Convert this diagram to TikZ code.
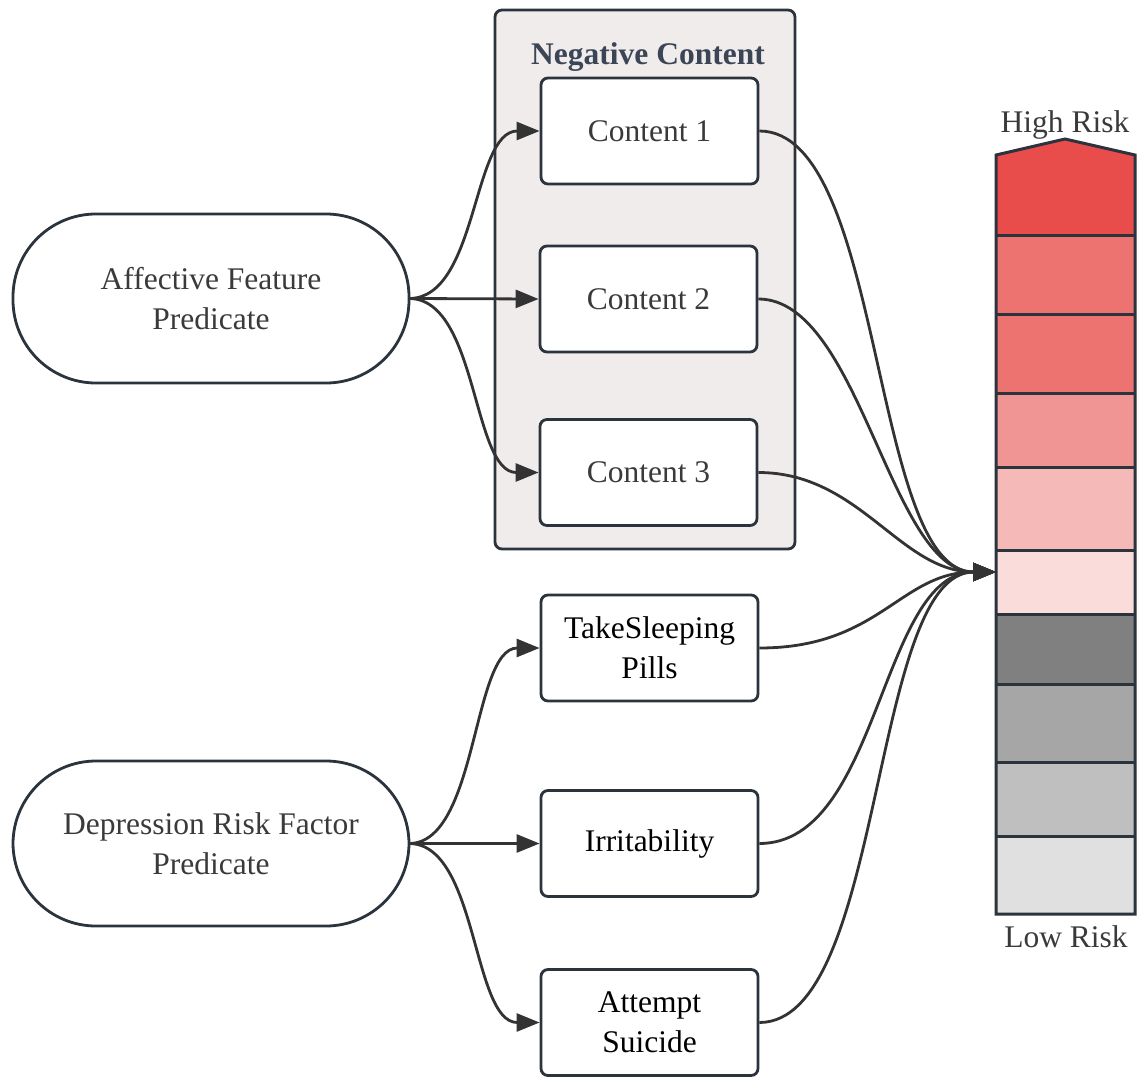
\documentclass[tikz,border=0pt]{standalone}
\usepackage{fontspec}
\setmainfont{Liberation Serif}
\usetikzlibrary{arrows.meta}
\definecolor{edgecol}{HTML}{333333}
\definecolor{boxline}{HTML}{2B333D}
\definecolor{clusterfill}{HTML}{F0ECEC}
\definecolor{titlecol}{HTML}{3B4556}
\definecolor{txt}{HTML}{3A3A3A}
\definecolor{rA}{HTML}{E84D4C}
\definecolor{rB}{HTML}{ED7370}
\definecolor{rC}{HTML}{F09594}
\definecolor{rD}{HTML}{F5B9B8}
\definecolor{rE}{HTML}{FADCDB}
\definecolor{gA}{HTML}{808080}
\definecolor{gB}{HTML}{A6A6A6}
\definecolor{gC}{HTML}{BFBFBF}
\definecolor{gD}{HTML}{E0E0E0}
\begin{document}
\begin{tikzpicture}[x=1pt,y=-1pt,
  every node/.style={font=\fontsize{31.5}{40}\selectfont},
  itembox/.style={draw=boxline,line width=2.8pt,fill=white,rounded corners=7pt,
    minimum width=217pt,minimum height=106pt,align=center,inner sep=0pt},
  stadium/.style={draw=boxline,line width=2.8pt,fill=white,rounded corners=83pt,
    minimum width=396pt,align=center,inner sep=0pt,text=txt},
  flow/.style={draw=edgecol,line width=2.8pt,-{Triangle[length=23pt,width=18pt]}},
  seg/.style={draw=boxline,line width=3pt}]
\useasboundingbox (0,0) rectangle (1140,1076);

% cluster of negative content
\draw[boxline,line width=2.8pt,fill=clusterfill,rounded corners=7pt] (495,10) rectangle (795,549);
\node[font=\fontsize{31.5}{36}\selectfont\bfseries,text=titlecol] (ctitle) at (648,57) {Negative Content};

\node[itembox,text=txt] (c1) at (649.5,131) {Content 1};
\node[itembox,text=txt] (c2) at (648.5,299) {Content 2};
\node[itembox,text=txt] (c3) at (648.5,472.5) {Content 3};

\node[itembox,text=black] (pills) at (649.5,648) {TakeSleeping\\Pills};
\node[itembox,text=black] (irr) at (649.5,843.5) {Irritability};
\node[itembox,text=black] (att) at (649.5,1022.5) {Attempt\\Suicide};

\node[stadium,minimum height=169pt] (aff) at (211,298.5) {Affective Feature\\Predicate};
\node[stadium,minimum height=165pt] (dep) at (211,843.5) {Depression Risk Factor\\Predicate};

% risk scale
\fill[rA] (996,235) -- (996,155) -- (1065,139) -- (1135,155) -- (1135,235) -- cycle;
\fill[rB] (996,235) rectangle (1135,393);
\fill[rC] (996,393) rectangle (1135,467);
\fill[rD] (996,467) rectangle (1135,550);
\fill[rE] (996,550) rectangle (1135,614);
\fill[gA] (996,614) rectangle (1135,684);
\fill[gB] (996,684) rectangle (1135,762);
\fill[gC] (996,762) rectangle (1135,836);
\fill[gD] (996,836) rectangle (1135,914);
\draw[seg,line join=miter] (996,914) -- (996,155) -- (1065,139) -- (1135,155) -- (1135,914) -- cycle;
\foreach \yy in {235,314,393,467,550,614,684,762,836}
  \draw[seg] (996,\yy) -- (1135,\yy);
\node[text=txt] (high) at (1065,125) {High Risk};
\node[text=txt] (low) at (1066,937) {Low Risk};
\coordinate (bar) at (996,572);

% predicate fans
\coordinate (affout) at (409,298.5);
\coordinate (depout) at (409,843.5);
\draw[flow] (affout) .. controls (478,298.5) and (472,131) .. (c1.west);
\draw[flow] (affout) -- (c2.west);
\draw[flow] (affout) .. controls (478,298.5) and (472,472.5) .. (c3.west);
\draw[flow] (depout) .. controls (478,843.5) and (472,648) .. (pills.west);
\draw[flow] (depout) -- (irr.west);
\draw[flow] (depout) .. controls (478,843.5) and (472,1022.5) .. (att.west);

% everything converges on the risk scale
\draw[flow] (c1.east) .. controls (885,131) and (870,572) .. (bar);
\draw[flow] (c2.east) .. controls (860,299) and (890,572) .. (bar);
\draw[flow] (c3.east) .. controls (860,472.5) and (900,572) .. (bar);
\draw[flow] (pills.east) .. controls (880,648) and (900,572) .. (bar);
\draw[flow] (irr.east) .. controls (880,843.5) and (880,572) .. (bar);
\draw[flow] (att.east) .. controls (885,1022.5) and (870,572) .. (bar);
\end{tikzpicture}
\end{document}
